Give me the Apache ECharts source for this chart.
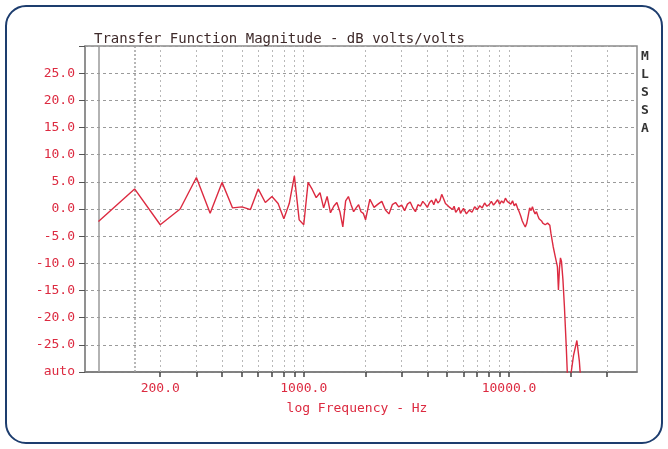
<!DOCTYPE html>
<html>
<head>
<meta charset="utf-8">
<script src="https://cdn.jsdelivr.net/npm/echarts@6/dist/echarts.min.js"></script>
<style>
  html, body { margin: 0; padding: 0; background: #fff; }
  #main { width: 668px; height: 449px; }
</style>
</head>
<body>
<div id="main"></div>
<script>
// frequency points (Hz) and magnitude (dB volts/volts)
var freqHz = [
  100, 150, 200, 250, 300, 350, 400, 450, 500, 550,
  600, 650, 700, 750, 800, 850, 900, 950, 1000, 1050,
  1100, 1150, 1200, 1250, 1300, 1350, 1400, 1450, 1500, 1550,
  1600, 1650, 1700, 1750, 1800, 1850, 1900, 1950, 2000,
  2100, 2200, 2300, 2400, 2500, 2600, 2700, 2800, 2900, 3000,
  3100, 3200, 3300, 3400, 3500, 3600, 3700, 3800, 3900, 4000,
  4100, 4200, 4300, 4400, 4500, 4600, 4700, 4800, 4900, 5000,
  5100, 5200, 5300, 5400, 5500, 5600, 5700, 5800, 5900, 6000,
  6200, 6400, 6600, 6800, 7000, 7200, 7400, 7600, 7800, 8000,
  8200, 8400, 8600, 8800, 9000, 9200, 9400, 9600, 9800, 10000,
  10200, 10400, 10600, 10800, 11000, 11200, 11400, 11600, 11800, 12000,
  12200, 12400, 12600, 12800, 13000, 13200, 13400, 13600, 13800, 14000,
  14200, 14400, 14600, 14800, 15000, 15400, 15800, 16000, 16400, 16800,
  17200, 17400, 17600, 17800, 18000, 18300, 18600, 19000, 19400, 20000,
  20600, 21400, 22000, 22600
];
var magDb = [
  -2.3, 3.7, -2.9, 0.0, 5.8, -0.8, 4.9, 0.2, 0.4, -0.1,
  3.7, 1.2, 2.3, 1.0, -1.8, 1.0, 6.1, -2.0, -2.9, 4.9,
  3.6, 2.1, 3.0, 0.2, 2.3, -0.7, 0.5, 1.2, -0.5, -3.3,
  1.5, 2.3, 0.8, -0.5, 0.2, 0.8, -0.5, -0.8, -2.0,
  1.8, 0.3, 0.9, 1.4, -0.2, -0.9, 0.8, 1.2, 0.4, 0.7,
  -0.3, 0.9, 1.3, 0.2, -0.5, 0.8, 0.5, 1.4, 0.9, 0.3,
  1.2, 1.6, 0.8, 1.9, 1.1, 1.5, 2.7, 1.9, 1.0, 1.3,
  0.4, 0.7, -0.1, 0.5, -0.6, -0.2, 0.3, -0.8, -0.3, 0.1,
  -0.9, -0.2, -0.6, 0.4, -0.1, 0.6, 0.2, 1.1, 0.5, 0.8,
  1.4, 0.7, 1.2, 1.7, 0.9, 1.5, 1.1, 2.0, 1.4, 1.7,
  0.9, 1.5, 0.6, 1.0, 0.2, -0.5, -1.3, -2.2, -2.8, -3.3,
  -2.6, -1.2, 0.2, -0.3, 0.4, -0.4, -0.9, -0.5, -1.2, -1.8,
  -1.5, -2.2, -2.6, -2.3, -2.9, -2.6, -3.0, -4.5, -6.9, -8.8,
  -10.6, -14.9, -11.0, -9.0, -9.6, -13.0, -17.8, -25.4, -34.0, -30.5,
  -27.0, -24.2, -28.0, -34.0
];
// axis ticks and labels
var tickHz = [200, 300, 400, 500, 600, 700, 800, 900,
  1000, 2000, 3000, 4000, 5000, 6000, 7000, 8000, 9000,
  10000, 20000, 30000];
var labelHz = [200, 1000, 10000];
var cursorHz = [100, 150];

var fMin = 86, fMax = 42000;
var red = '#dc2a40';
var mono = 'DejaVu Sans Mono';

var chart = echarts.init(document.getElementById('main'));

var points = freqHz.map(function (f, i) { return [f, magDb[i]]; });
var gridLines = tickHz.map(function (f) { return { xAxis: f }; });

chart.setOption({
  animation: false,
  title: {
    text: 'Transfer Function Magnitude - dB volts/volts',
    left: 89,
    top: 27,
    textStyle: { fontFamily: mono, fontSize: 14, fontWeight: 'normal', color: '#3e2a2a' }
  },
  grid: {
    left: 85, right: 31, top: 46, bottom: 77,
    show: true, borderColor: '#8a8a8a', borderWidth: 1.5
  },
  xAxis: [
    {
      type: 'log', logBase: 10, min: fMin, max: fMax, show: false
    },
    {
      type: 'value',
      min: Math.log10(fMin),
      max: Math.log10(fMax),
      position: 'bottom',
      axisLine: { show: true, lineStyle: { color: '#777', width: 1.5 } },
      axisTick: {
        show: true, length: 5,
        customValues: tickHz.map(function (f) { return Math.log10(f); }),
        lineStyle: { color: '#444', width: 1.5 }
      },
      axisLabel: {
        customValues: labelHz.map(function (f) { return Math.log10(f); }),
        formatter: function (v) { return Math.pow(10, v).toFixed(1); },
        margin: 10,
        color: red, fontFamily: mono, fontSize: 13
      },
      splitLine: { show: false }
    }
  ],
  yAxis: {
    type: 'value', min: -30, max: 30, interval: 5,
    axisLine: { show: true, lineStyle: { color: '#8a8a8a', width: 1.5 } },
    axisTick: { show: true, length: 6, lineStyle: { color: '#555' } },
    axisLabel: {
      margin: 10, color: red, fontFamily: mono, fontSize: 13,
      formatter: function (v) {
        if (v === -30) return 'auto';
        if (v === 30) return '';
        return v.toFixed(1);
      }
    },
    splitLine: { show: true, lineStyle: { color: '#9a9a9a', type: [3, 3], width: 1 } }
  },
  series: [
    {
      type: 'line',
      xAxisIndex: 0,
      data: points,
      showSymbol: false,
      clip: true,
      lineStyle: { color: red, width: 1.4 },
      markLine: {
        silent: true, symbol: 'none', label: { show: false },
        lineStyle: { color: '#b8b8b8', type: [2, 3], width: 1 },
        data: gridLines.concat([
          { xAxis: cursorHz[0], lineStyle: { color: '#9a9a9a', type: 'solid', width: 1.5 } },
          { xAxis: cursorHz[1], lineStyle: { color: '#a0a0a0', type: [2, 2], width: 1.5 } }
        ])
      },
      z: 5
    }
  ],
  graphic: [
    {
      type: 'rect', silent: true,
      shape: { x: 6, y: 6, width: 656, height: 437, r: 20 },
      style: { fill: 'none', stroke: '#1d3d6e', lineWidth: 2 }
    },
    {
      type: 'text', left: 641, top: 48, silent: true,
      style: {
        text: 'M\nL\nS\nS\nA', fontFamily: mono, fontSize: 13, fontWeight: 'bold',
        lineHeight: 18, fill: '#333', align: 'left'
      }
    },
    {
      type: 'text', x: 357, y: 409, silent: true,
      style: {
        text: 'log Frequency - Hz', fontFamily: mono, fontSize: 13,
        fill: red, align: 'center', verticalAlign: 'middle'
      }
    }
  ]
});
</script>
</body>
</html>
